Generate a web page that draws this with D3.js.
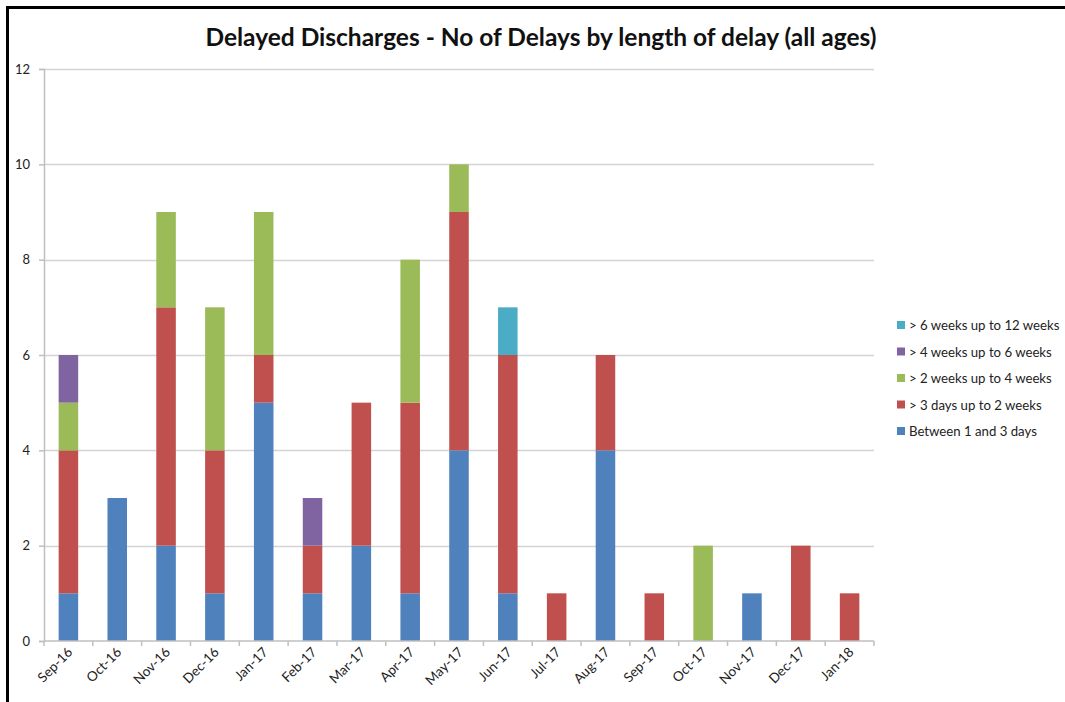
<!DOCTYPE html>
<html>
<head>
<meta charset="utf-8">
<script src="https://cdn.jsdelivr.net/npm/d3@7"></script>
<style>
  body { margin: 0; background: #fff; }
  text { font-family: Lato, "Open Sans", sans-serif; }
</style>
</head>
<body>
<div id="chart"></div>
<script>
// months along the x axis
var months = ["Sep-16", "Oct-16", "Nov-16", "Dec-16", "Jan-17", "Feb-17", "Mar-17", "Apr-17",
  "May-17", "Jun-17", "Jul-17", "Aug-17", "Sep-17", "Oct-17", "Nov-17", "Dec-17", "Jan-18"];

// one array per delay band (bottom to top of the stack)
var between1and3days = [1, 3, 2, 1, 5, 1, 2, 1, 4, 1, 0, 4, 0, 0, 1, 0, 0];
var days3to2weeks    = [3, 0, 5, 3, 1, 1, 3, 4, 5, 5, 1, 2, 1, 0, 0, 2, 1];
var weeks2to4        = [1, 0, 2, 3, 3, 0, 0, 3, 1, 0, 0, 0, 0, 2, 0, 0, 0];
var weeks4to6        = [1, 0, 0, 0, 0, 1, 0, 0, 0, 0, 0, 0, 0, 0, 0, 0, 0];
var weeks6to12       = [0, 0, 0, 0, 0, 0, 0, 0, 0, 1, 0, 0, 0, 0, 0, 0, 0];

var seriesNames = ["Between 1 and 3 days", "> 3 days up to 2 weeks", "> 2 weeks up to 4 weeks",
  "> 4 weeks up to 6 weeks", "> 6 weeks up to 12 weeks"];
var seriesValues = [between1and3days, days3to2weeks, weeks2to4, weeks4to6, weeks6to12];
var colours = ["#4F81BD", "#C0504D", "#9BBB59", "#8064A2", "#4BACC6"];
var yTicks = [0, 2, 4, 6, 8, 10, 12];

var W = 1065, H = 702;
var margin = {top: 69, left: 44, right: 191, bottom: 61};
var width = W - margin.left - margin.right,
    height = H - margin.top - margin.bottom;

var svg = d3.select("#chart").append("svg")
    .attr("width", W)
    .attr("height", H);

// outer frame of the picture
svg.append("rect")
    .attr("x", 7.5).attr("y", 7.5)
    .attr("width", W + 10).attr("height", H + 10)
    .attr("fill", "none")
    .attr("stroke", "#000")
    .attr("stroke-width", 3);

// title
svg.append("text")
    .attr("x", 541)
    .attr("y", 46)
    .style("text-anchor", "middle")
    .style("font-weight", "bold")
    .style("font-size", "24.5px")
    .style("fill", "#111")
    .text("Delayed Discharges - No of Delays by length of delay (all ages)");

var g = svg.append("g")
    .attr("transform", "translate(" + margin.left + "," + margin.top + ")");

// build the table for d3.stack
var table = months.map(function (m, i) {
    var row = {month: m};
    seriesNames.forEach(function (s, j) { row[s] = seriesValues[j][i]; });
    return row;
});
var stacked = d3.stack().keys(seriesNames)(table);

var x = d3.scaleBand().domain(months).range([0, width]).paddingInner(0.6).paddingOuter(0.3);
var xEdges = d3.scaleBand().domain(months).range([0, width]);
var y = d3.scaleLinear().domain([0, 12]).range([height, 0]);

// gridlines
g.selectAll(".grid")
    .data(yTicks.slice(1))
    .enter().append("line")
    .attr("class", "grid")
    .attr("x1", 0).attr("x2", width)
    .attr("y1", function (d) { return Math.round(y(d)) + 0.5; })
    .attr("y2", function (d) { return Math.round(y(d)) + 0.5; })
    .attr("stroke", "#d4d4d4")
    .attr("stroke-width", 1.5);

// bars
g.selectAll(".layer")
    .data(stacked)
    .enter().append("g")
    .attr("class", "layer")
    .attr("fill", function (d, i) { return colours[i]; })
    .selectAll("rect")
    .data(function (d) { return d; })
    .enter().append("rect")
    .filter(function (d) { return d[1] > d[0]; })
    .attr("x", function (d) { return x(d.data.month); })
    .attr("width", x.bandwidth())
    .attr("y", function (d) { return y(d[1]); })
    .attr("height", function (d) { return y(d[0]) - y(d[1]); });

// y axis
var yAxis = g.append("g")
    .call(d3.axisLeft(y).tickValues(yTicks).tickSize(5).tickPadding(9));
yAxis.select(".domain").attr("stroke", "#bfbfbf").attr("stroke-width", 1.5);
yAxis.selectAll(".tick line").attr("stroke", "#bfbfbf").attr("stroke-width", 1.5);
yAxis.selectAll("text").style("font-size", "13px").style("fill", "#222");

// x axis with ticks at category boundaries
var xAxis = g.append("g")
    .attr("transform", "translate(0," + height + ")");
xAxis.append("line")
    .attr("x1", 0).attr("x2", width)
    .attr("stroke", "#bfbfbf").attr("stroke-width", 1.5);
xAxis.selectAll(".xtick")
    .data(months.concat(["end"]))
    .enter().append("line")
    .attr("class", "xtick")
    .attr("x1", function (d, i) { return i * xEdges.step(); })
    .attr("x2", function (d, i) { return i * xEdges.step(); })
    .attr("y1", 0).attr("y2", 5)
    .attr("stroke", "#bfbfbf").attr("stroke-width", 1.5);
xAxis.selectAll(".xlabel")
    .data(months)
    .enter().append("text")
    .attr("class", "xlabel")
    .attr("transform", function (d) {
        return "translate(" + (xEdges(d) + xEdges.bandwidth() / 2 + 5) + ",12) rotate(-45)";
    })
    .style("text-anchor", "end")
    .style("font-size", "13.5px")
    .style("fill", "#222")
    .text(function (d) { return d; });

// legend (reverse order, top = last series)
var legend = svg.append("g")
    .attr("transform", "translate(897,325)");
var legendItems = legend.selectAll(".legend")
    .data(seriesNames.slice().reverse())
    .enter().append("g")
    .attr("class", "legend")
    .attr("transform", function (d, i) { return "translate(0," + (i * 26.5) + ")"; });
legendItems.append("rect")
    .attr("x", 0).attr("y", -4)
    .attr("width", 8).attr("height", 8)
    .attr("fill", function (d) { return colours[seriesNames.indexOf(d)]; });
legendItems.append("text")
    .attr("x", 12)
    .attr("y", 5)
    .style("font-size", "13.2px")
    .style("fill", "#222")
    .text(function (d) { return d; });
</script>
</body>
</html>
